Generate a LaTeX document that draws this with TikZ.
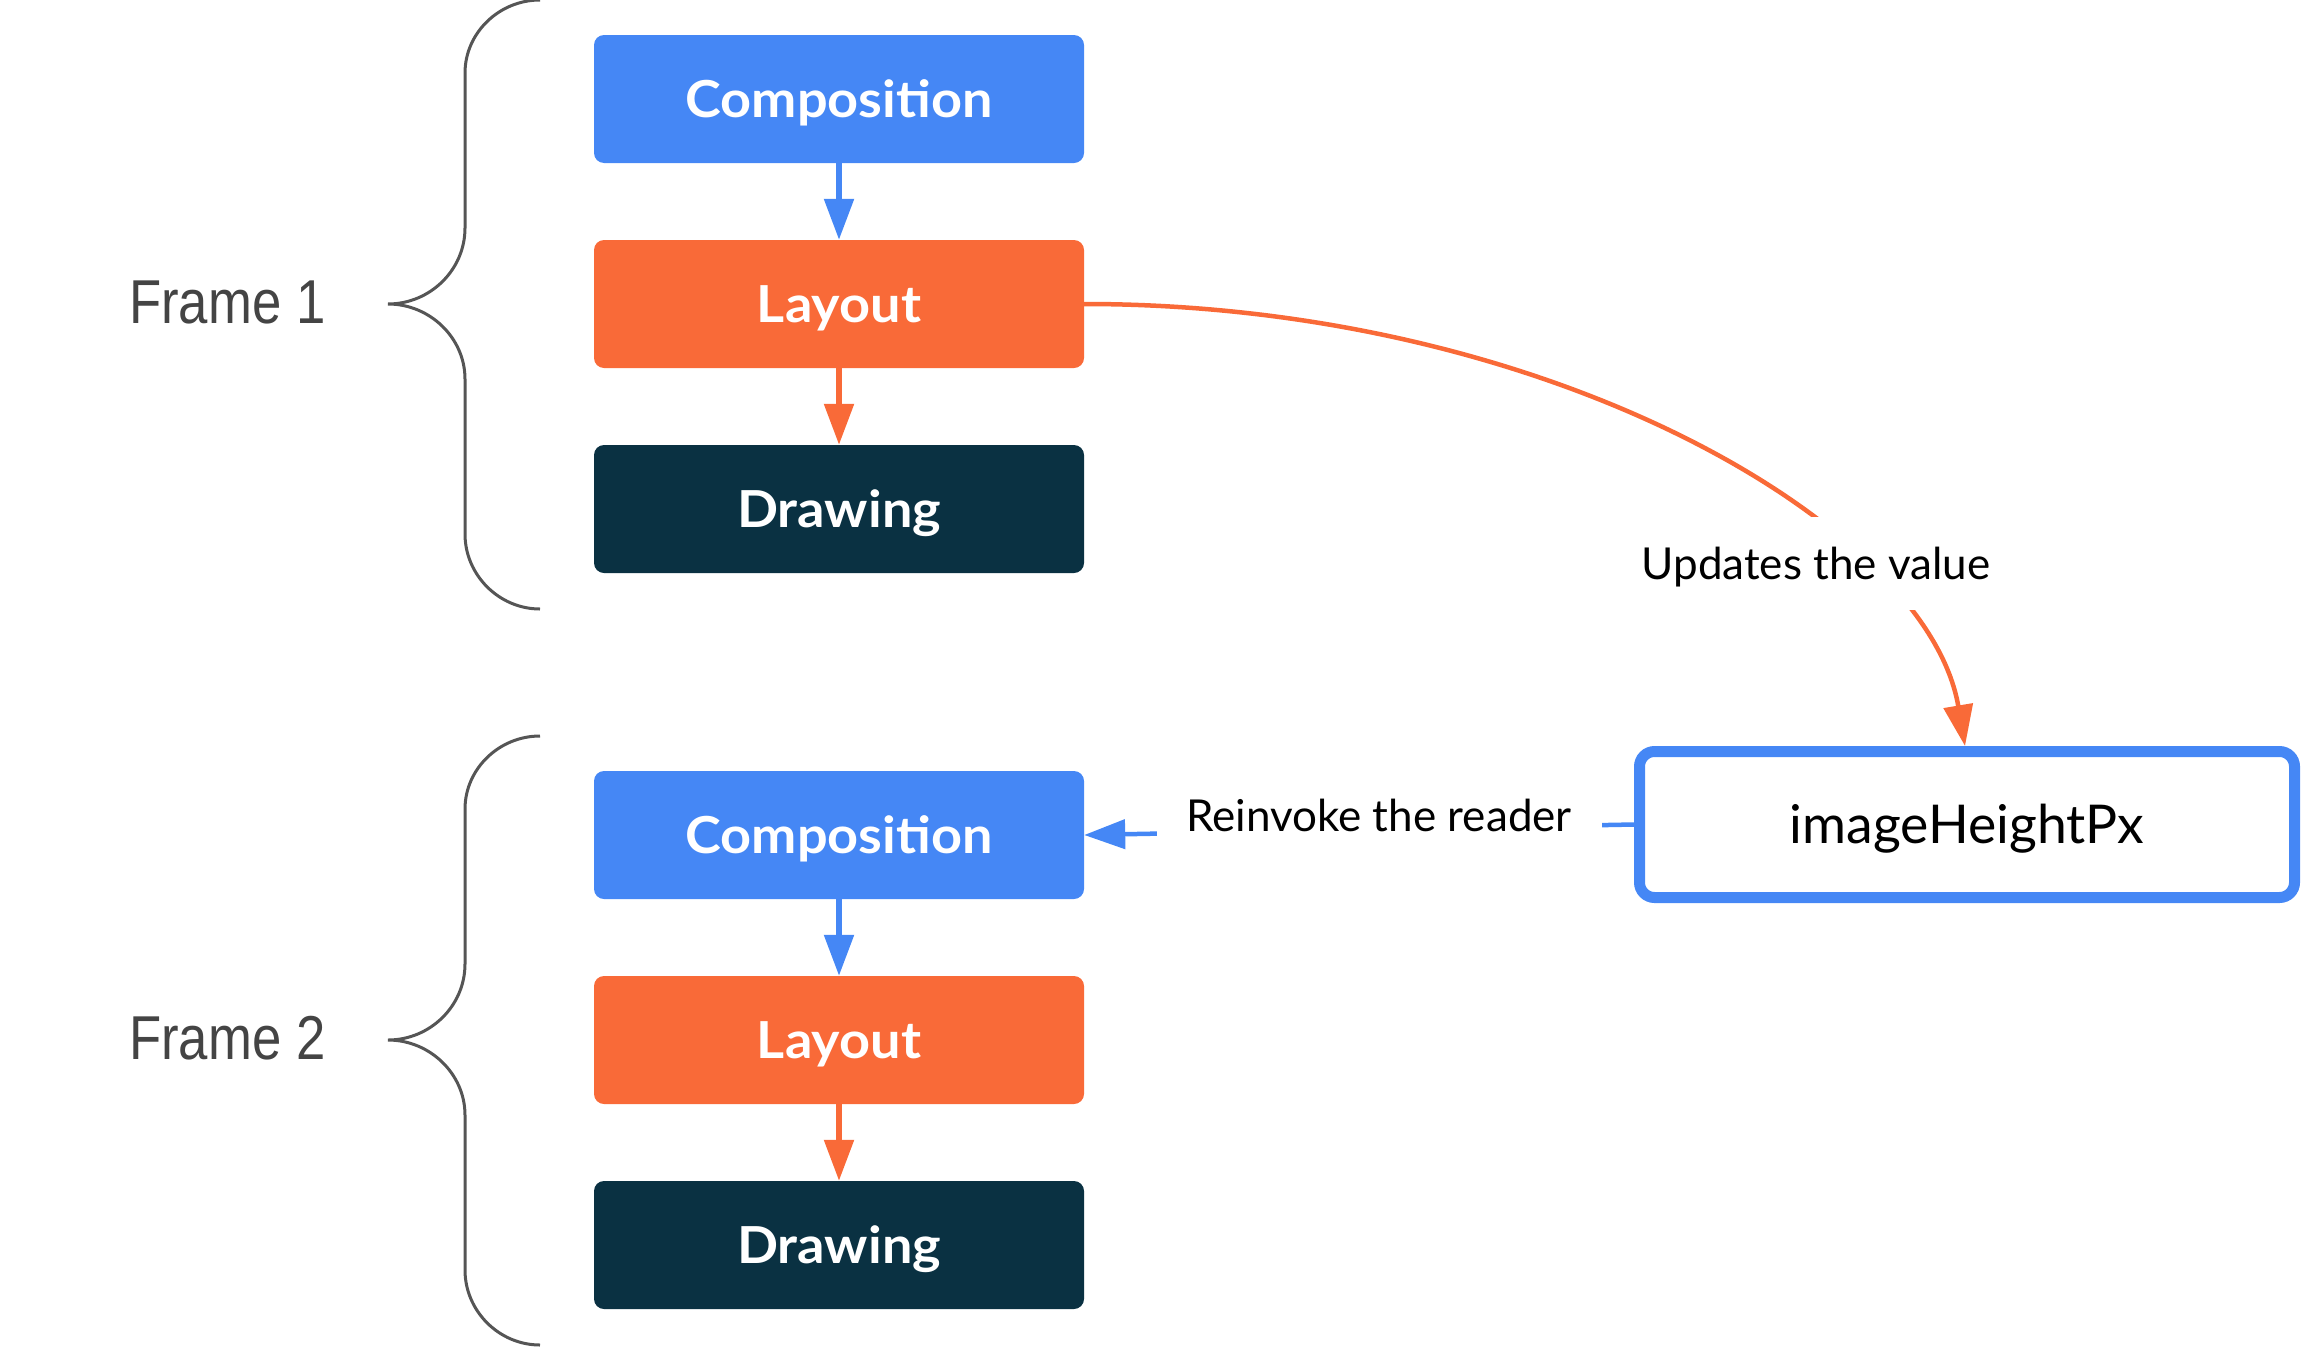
\documentclass[tikz,border=0pt]{standalone}
\usepackage{fontspec}
\setmainfont{Lato}
\newfontfamily\boxfont[FakeStretch=1.06]{Lato}
\newfontfamily\framefont[FakeStretch=0.85]{Liberation Sans}
\usetikzlibrary{arrows.meta}
\definecolor{gblue}{HTML}{4587F5}
\definecolor{gorange}{HTML}{F96A38}
\definecolor{gnavy}{HTML}{0A3142}
\definecolor{bracegray}{HTML}{555555}
\definecolor{framegray}{HTML}{444444}
\tikzset{
  stagebox/.style={rectangle, rounded corners=10pt, minimum width=490pt, minimum height=128pt,
    inner sep=0pt, text=white, text height=36pt, text depth=0pt,
    font=\boxfont\bfseries\fontsize{51}{60}\selectfont},
  compbox/.style={stagebox, fill=gblue},
  laybox/.style={stagebox, fill=gorange},
  drawbox/.style={stagebox, fill=gnavy},
  tipstyle/.style={-{Triangle[length=41pt,width=29pt]}},
  bluearrow/.style={draw=gblue, line width=5.5pt, tipstyle},
  orangearrow/.style={draw=gorange, line width=5.5pt, tipstyle},
  bracestyle/.style={draw=bracegray, line width=3pt},
  framelabel/.style={anchor=west, inner sep=0pt, text=framegray, text height=44.7pt, text depth=0pt,
    font=\framefont\fontsize{62}{70}\selectfont},
  edgelabel/.style={fill=white, inner sep=0pt, text=black, text height=31pt, text depth=0pt,
    font=\fontsize{44}{52}\selectfont},
  valuebox/.style={rectangle, draw=gblue, line width=11pt, rounded corners=15pt,
    minimum width=655pt, minimum height=146pt, inner sep=0pt, text=black,
    text height=38pt, text depth=0pt, font=\fontsize{53.5}{62}\selectfont},
}
\begin{document}
\begin{tikzpicture}[x=1pt,y=-1pt]
\useasboundingbox (0,0) rectangle (2310,1349);
% Frame 1
\node[compbox] (comp1) at (839,99) {Composition};
\node[laybox]  (lay1)  at (839,304) {Layout};
\node[drawbox] (draw1) at (839,509) {Drawing};
% Frame 2
\node[compbox] (comp2) at (839,835) {Composition};
\node[laybox]  (lay2)  at (839,1040) {Layout};
\node[drawbox] (draw2) at (839,1245) {Drawing};
% value box
\node[valuebox] (img) at (1967,824.5) {imageHeightPx};
% arrows
\draw[bluearrow] (comp1) -- (lay1);
\draw[orangearrow] (lay1) -- (draw1);
\draw[bluearrow] (comp2) -- (lay2);
\draw[orangearrow] (lay2) -- (draw2);
\draw[orangearrow, line width=4.5pt] (lay1.east) .. controls (1552,304) and (1928,527) .. ([xshift=-2pt]img.north);
\node[edgelabel, minimum width=370pt, minimum height=93pt] (upd) at (1816,563.5) {Updates the value};
\draw[bluearrow, line width=4.5pt] (img.west) -- (comp2.east);
\node[edgelabel, minimum width=445pt, minimum height=44pt] (rein) at (1379,816) {Reinvoke the reader};
% braces
\foreach \dy/\nm in {0/1,736/2}{
  \begin{scope}[yshift=-\dy pt]
  \draw[bracestyle] (540,0) .. controls (499,0) and (465,33) .. (465,73)
    -- (465,228) .. controls (465,270) and (430,304) .. (388,304)
    .. controls (430,304) and (465,338) .. (465,379)
    -- (465,534) .. controls (465,575) and (499,609) .. (540,609);
  \end{scope}
}
\node[framelabel] (f1) at (129,301) {Frame 1};
\node[framelabel] (f2) at (129,1037) {Frame 2};
\end{tikzpicture}
\end{document}
